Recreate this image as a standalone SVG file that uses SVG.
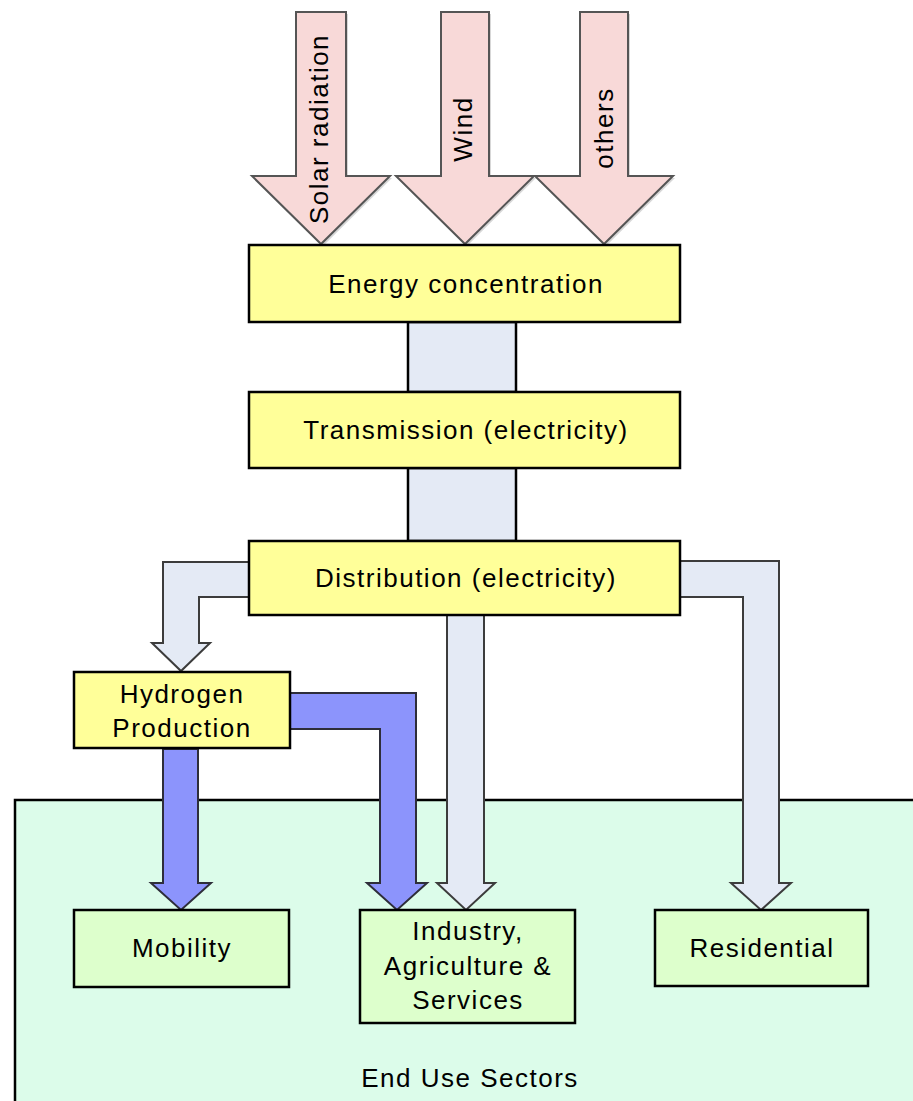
<svg xmlns="http://www.w3.org/2000/svg" width="913" height="1101" viewBox="0 0 913 1101">
  <defs>
    <style>
      .lbl { font-family: "Liberation Sans", Arial, sans-serif; font-size: 26px; letter-spacing: 1.5px; fill: #000; text-anchor: middle; }
      .box { stroke: #000; stroke-width: 2.5; }
      .stage { fill: #FFFF99; }
      .sector { fill: #DDFFCC; }
      .src { fill: #F8D9D8; stroke: #555; stroke-width: 2; stroke-linejoin: miter; }
      .elec { fill: #E4EAF5; stroke: #3c3c3c; stroke-width: 2; stroke-linejoin: miter; }
      .h2 { fill: #8C94FC; stroke: #2e2e3a; stroke-width: 2; stroke-linejoin: miter; }
      .pipe { fill: #E4EAF5; stroke: #000; stroke-width: 2.5; }
      .shadow { fill: #BDBDBD; opacity: 0.6; }
    </style>
  </defs>

  <rect width="913" height="1101" fill="#FFFFFF"/>

  <!-- End use sector area -->
  <g id="end-use-sectors">
    <rect x="15" y="800" width="920" height="330" fill="#DCFCEA" stroke="#000" stroke-width="2.5"/>
    <text class="lbl" x="470" y="1087">End Use Sectors</text>
  </g>

  <!-- Flows between stages -->
  <g id="connectors">
    <!-- energy sources -->
    <polygon class="shadow" points="298,14 348,14 348,178 392,178 323,246 254,178 298,178"/>
    <polygon class="src" points="296,12 346,12 346,176 390,176 321,244 252,176 296,176"/>
    <polygon class="shadow" points="443,14 491,14 491,178 536,178 467,246 398,178 443,178"/>
    <polygon class="src" points="441,12 489,12 489,176 534,176 465,244 396,176 441,176"/>
    <polygon class="shadow" points="582,14 630,14 630,178 675,178 606,246 537,178 582,178"/>
    <polygon class="src" points="580,12 628,12 628,176 673,176 604,244 535,176 580,176"/>

    <!-- trunk between stages -->
    <rect class="pipe" x="408" y="322" width="108" height="70"/>
    <rect class="pipe" x="408" y="468" width="108" height="73"/>

    <!-- distribution outputs -->
    <polygon class="elec" points="249,562 163,562 163,643 152,643 181,671 210,643 199,643 199,597 249,597"/>
    <polygon class="elec" points="447,615 447,883 437,883 466,910 495,883 484,883 484,615"/>
    <polygon class="elec" points="680,561 779,561 779,883 791,883 761,910 731,883 743,883 743,597 680,597"/>

    <!-- hydrogen outputs -->
    <polygon class="h2" points="163,749 163,883 151,883 181,910 211,883 198,883 198,749"/>
    <polygon class="h2" points="290,693 416,693 416,883 427,883 397,910 367,883 380,883 380,729 290,729"/>
  </g>

  <g id="energy-concentration">
    <rect class="box stage" x="249" y="245" width="431" height="77"/>
    <text class="lbl" x="466" y="293">Energy concentration</text>
  </g>

  <g id="transmission">
    <rect class="box stage" x="249" y="392" width="431" height="76"/>
    <text class="lbl" x="466" y="439">Transmission (electricity)</text>
  </g>

  <g id="distribution">
    <rect class="box stage" x="249" y="541" width="431" height="74"/>
    <text class="lbl" x="466" y="587">Distribution (electricity)</text>
  </g>

  <g id="hydrogen-production">
    <rect class="box stage" x="74" y="672" width="216" height="76"/>
    <text class="lbl" x="182" y="703">Hydrogen</text>
    <text class="lbl" x="182" y="737">Production</text>
  </g>

  <g id="mobility">
    <rect class="box sector" x="74" y="910" width="215" height="77"/>
    <text class="lbl" x="182" y="957">Mobility</text>
  </g>

  <g id="industry">
    <rect class="box sector" x="360" y="910" width="215" height="113"/>
    <text class="lbl" x="468" y="940">Industry,</text>
    <text class="lbl" x="468" y="975">Agriculture &amp;</text>
    <text class="lbl" x="468" y="1009">Services</text>
  </g>

  <g id="residential">
    <rect class="box sector" x="655" y="910" width="213" height="76"/>
    <text class="lbl" x="762" y="957">Residential</text>
  </g>

  <!-- source labels, reading upward -->
  <g id="sources">
    <text class="lbl" transform="translate(328,129) rotate(-90)">Solar radiation</text>
    <text class="lbl" transform="translate(472,129) rotate(-90)">Wind</text>
    <text class="lbl" transform="translate(613,128) rotate(-90)">others</text>
  </g>
</svg>
